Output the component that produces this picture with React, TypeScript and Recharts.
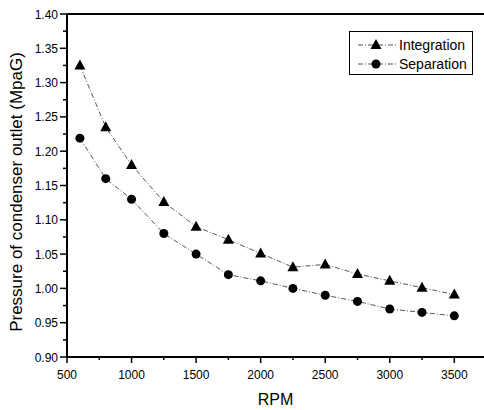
import React from 'react';
import { LineChart, Line, XAxis, YAxis, Legend, Label, ReferenceLine } from 'recharts';

const rpm = [600, 800, 1000, 1250, 1500, 1750, 2000, 2250, 2500, 2750, 3000, 3250, 3500];
const integration = [1.325, 1.235, 1.18, 1.126, 1.09, 1.071, 1.051, 1.031, 1.035, 1.021, 1.011, 1.001, 0.991];
const separation = [1.219, 1.16, 1.13, 1.08, 1.05, 1.02, 1.011, 1.0, 0.99, 0.981, 0.97, 0.965, 0.96];

const xMajor = [500, 1000, 1500, 2000, 2500, 3000, 3500];
const xTicks = [500, 750, 1000, 1250, 1500, 1750, 2000, 2250, 2500, 2750, 3000, 3250, 3500];
const yMajor = [0.9, 0.95, 1.0, 1.05, 1.1, 1.15, 1.2, 1.25, 1.3, 1.35, 1.4];
const yTicks = [
  0.9, 0.925, 0.95, 0.975, 1.0, 1.025, 1.05, 1.075, 1.1, 1.125, 1.15, 1.175, 1.2, 1.225, 1.25, 1.275,
  1.3, 1.325, 1.35, 1.375, 1.4,
];

const data = rpm.map((r, i) => ({ rpm: r, integration: integration[i], separation: separation[i] }));

const FONT = '"Liberation Sans", Arial, sans-serif';
const LINE_COLOR = '#555';
const DASH = '5 2 1 2';

const isMajor = (list: number[], v: number) => list.some((m) => Math.abs(m - v) < 1e-6);

const XTick = (props: any) => {
  const { x, y, payload } = props;
  const major = isMajor(xMajor, payload.value);
  return (
    <g>
      <line x1={x} y1={y} x2={x} y2={y + (major ? 6 : 3)} stroke="#000" strokeWidth={1.5} />
      {major && (
        <text x={x} y={y + 22} textAnchor="middle" fontSize={12} fontFamily={FONT} fill="#000">
          {payload.value}
        </text>
      )}
    </g>
  );
};

const YTick = (props: any) => {
  const { x, y, payload } = props;
  const major = isMajor(yMajor, payload.value);
  return (
    <g>
      <line x1={x} y1={y} x2={x - (major ? 7 : 4)} y2={y} stroke="#000" strokeWidth={1.5} />
      {major && (
        <text x={x - 9} y={y + 4.5} textAnchor="end" fontSize={12} fontFamily={FONT} fill="#000">
          {payload.value.toFixed(2)}
        </text>
      )}
    </g>
  );
};

const Triangle = (props: any) => {
  const { cx, cy } = props;
  if (cx == null || cy == null) return null;
  return <polygon points={`${cx},${cy - 6} ${cx - 5.5},${cy + 4} ${cx + 5.5},${cy + 4}`} fill="#000" />;
};

const Dot = (props: any) => {
  const { cx, cy } = props;
  if (cx == null || cy == null) return null;
  return <circle cx={cx} cy={cy} r={4.5} fill="#000" />;
};

const renderLegend = (props: any) => {
  const { payload } = props;
  return (
    <div style={{ border: '1px solid #000', width: 122, height: 42, background: '#fff' }}>
      <svg width={122} height={42}>
        {payload.map((entry: any, i: number) => {
          const y = 13 + i * 19;
          return (
            <g key={entry.value}>
              <line x1={8} y1={y} x2={46} y2={y} stroke={LINE_COLOR} strokeDasharray={DASH} />
              {i === 0 ? <Triangle cx={26} cy={y} /> : <Dot cx={26} cy={y} />}
              <text x={49} y={y + 5} fontSize={14} fontFamily={FONT} fill="#000">
                {entry.value}
              </text>
            </g>
          );
        })}
      </svg>
    </div>
  );
};

export default function App() {
  return (
    <div style={{ position: 'absolute', left: 0, top: 0, background: '#fff' }}>
      <LineChart width={484} height={410} data={data} margin={{ top: 14, right: 0, bottom: 0, left: 0 }}>
        <XAxis
          dataKey="rpm"
          type="number"
          domain={[500, 3730]}
          ticks={xTicks}
          tick={<XTick />}
          tickLine={false}
          tickSize={0}
          tickMargin={0}
          interval={0}
          height={53}
          axisLine={{ stroke: '#000', strokeWidth: 2 }}
        >
          <Label value="RPM" position="insideBottom" offset={5} fontSize={16} fontFamily={FONT} fill="#000" />
        </XAxis>
        <YAxis
          type="number"
          domain={[0.9, 1.4]}
          ticks={yTicks}
          tick={<YTick />}
          tickLine={false}
          tickSize={0}
          tickMargin={0}
          interval={0}
          width={67}
          axisLine={{ stroke: '#000', strokeWidth: 2 }}
        >
          <Label
            content={() => (
              <text
                x={16}
                y={192}
                transform="rotate(-90 16 192)"
                textAnchor="middle"
                dominantBaseline="central"
                fontSize={17}
                fontFamily={FONT}
                fill="#000"
              >
                Pressure of condenser outlet (MpaG)
              </text>
            )}
          />
        </YAxis>
        <ReferenceLine y={1.4} stroke="#000" strokeWidth={2} />
        <Legend
          layout="horizontal"
          verticalAlign="middle"
          align="center"
          content={renderLegend}
          wrapperStyle={{ position: 'absolute', left: 349, top: 31, width: 124, height: 44 }}
        />
        <Line
          dataKey="integration"
          name="Integration"
          stroke={LINE_COLOR}
          strokeWidth={1}
          strokeDasharray={DASH}
          dot={<Triangle />}
          activeDot={false}
          isAnimationActive={false}
        />
        <Line
          dataKey="separation"
          name="Separation"
          stroke={LINE_COLOR}
          strokeWidth={1}
          strokeDasharray={DASH}
          dot={<Dot />}
          activeDot={false}
          isAnimationActive={false}
        />
      </LineChart>
    </div>
  );
}
